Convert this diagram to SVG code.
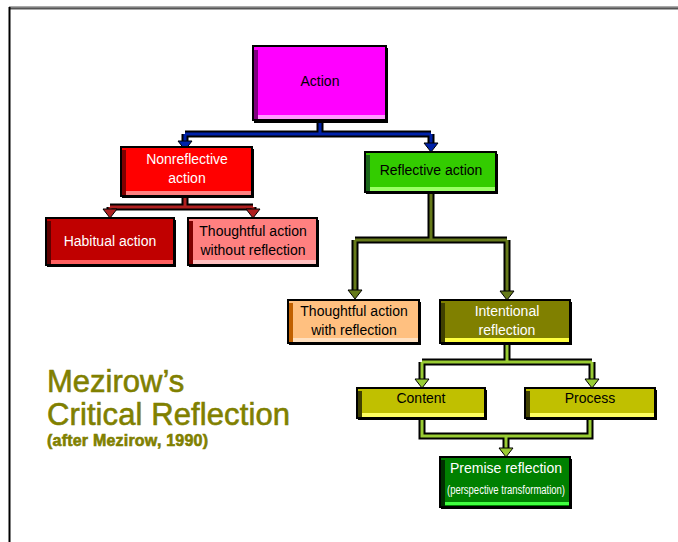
<svg xmlns="http://www.w3.org/2000/svg" width="678" height="542" viewBox="0 0 678 542">
<style>
text{font-family:"Liberation Sans",Arial,sans-serif;font-size:14px;text-anchor:middle}
.w{fill:#ffffff}
.k{fill:#000000}
.box{stroke:#000;stroke-width:2}
.sh{fill:#000}
.ol{fill:none;stroke:#000;stroke-width:7;stroke-linejoin:miter}
.title{fill:#808000;stroke:#808000;stroke-width:0.6;text-anchor:start}
</style>
<defs>
<polygon id="ah" points="-7,-5 7,-5 0,4"/>
</defs>
<rect width="678" height="542" fill="#ffffff"/>
<line x1="9" y1="8" x2="678" y2="8" stroke="#555" stroke-width="3"/>
<line x1="9" y1="7" x2="678" y2="7" stroke="#aaa" stroke-width="1"/>
<line x1="9.5" y1="7" x2="9.5" y2="542" stroke="#000" stroke-width="2"/>

<g id="connectors">
  <path class="ol" d="M320,121 V134 M185,134 H431 M185,134 V146 M431,134 V148"/>
  <path d="M320,121 V134 M185,134 H431 M185,134 V146 M431,134 V148" fill="none" stroke="#0022aa" stroke-width="3"/>
  <use href="#ah" x="185" y="146" fill="#0022aa" stroke="#000" stroke-width="1"/>
  <use href="#ah" x="431" y="148" fill="#0022aa" stroke="#000" stroke-width="1"/>
  <path class="ol" d="M185,196 V207 M110,207 H253 M110,207 V214 M253,207 V214"/>
  <path d="M185,196 V207 M110,207 H253 M110,207 V214 M253,207 V214" fill="none" stroke="#b02020" stroke-width="3"/>
  <use href="#ah" x="110" y="214" fill="#b02020" stroke="#000" stroke-width="1"/>
  <use href="#ah" x="253" y="214" fill="#b02020" stroke="#000" stroke-width="1"/>
  <path class="ol" d="M431,192 V240 M355,240 H507 M355,240 V295 M507,240 V296"/>
  <path d="M431,192 V240 M355,240 H507 M355,240 V295 M507,240 V296" fill="none" stroke="#667a1a" stroke-width="3"/>
  <use href="#ah" x="355" y="295" fill="#667a1a" stroke="#000" stroke-width="1"/>
  <use href="#ah" x="507" y="296" fill="#667a1a" stroke="#000" stroke-width="1"/>
  <path class="ol" d="M507,343 V362 M422,362 H592 M422,362 V384 M592,362 V384"/>
  <path d="M507,343 V362 M422,362 H592 M422,362 V384 M592,362 V384" fill="none" stroke="#99cc33" stroke-width="3"/>
  <use href="#ah" x="422" y="384" fill="#99cc33" stroke="#000" stroke-width="1"/>
  <use href="#ah" x="592" y="384" fill="#99cc33" stroke="#000" stroke-width="1"/>
  <path class="ol" d="M422,418 V436 H590 V418 M506,436 V453"/>
  <path d="M422,418 V436 H590 V418 M506,436 V453" fill="none" stroke="#99cc33" stroke-width="3"/>
  <use href="#ah" x="506" y="453" fill="#99cc33" stroke="#000" stroke-width="1"/>
</g>

<g id="action">
  <rect class="sh" x="254" y="48" width="134" height="75"/>
  <rect class="box" x="253" y="46" width="133" height="74" fill="#ff00ff"/>
  <rect x="254" y="50" width="4" height="69" fill="#800080"/>
  <rect x="258" y="115" width="127" height="4" fill="#ff99ff"/>
  <text class="k" x="320" y="86">Action</text>
</g>

<g id="nonreflective">
  <rect class="sh" x="122" y="149" width="132" height="49"/>
  <rect class="box" x="121" y="147" width="131" height="49" fill="#ff0000"/>
  <rect x="122" y="150" width="4" height="45" fill="#800000"/>
  <rect x="126" y="191" width="125" height="4" fill="#ff8080"/>
  <text class="w" x="187" y="164">Nonreflective</text>
  <text class="w" x="187" y="183">action</text>
</g>

<g id="reflective">
  <rect class="sh" x="366" y="154" width="132" height="40"/>
  <rect class="box" x="365" y="152" width="131" height="40" fill="#33cc00"/>
  <rect x="366" y="155" width="4" height="36" fill="#1a661a"/>
  <rect x="370" y="187" width="125" height="4" fill="#99ff66"/>
  <text class="k" x="431" y="175">Reflective action</text>
</g>

<g id="habitual">
  <rect class="sh" x="47" y="220" width="129" height="47"/>
  <rect class="box" x="46" y="218" width="128" height="47" fill="#c00000"/>
  <rect x="47" y="221" width="4" height="43" fill="#600000"/>
  <rect x="51" y="260" width="122" height="4" fill="#ff6060"/>
  <text class="w" x="110" y="246">Habitual action</text>
</g>

<g id="thoughtful-without">
  <rect class="sh" x="189" y="220" width="130" height="47"/>
  <rect class="box" x="188" y="218" width="129" height="47" fill="#ff8080"/>
  <rect x="189" y="221" width="4" height="43" fill="#800000"/>
  <rect x="193" y="260" width="123" height="4" fill="#ffc0c0"/>
  <text class="k" x="253" y="236">Thoughtful action</text>
  <text class="k" x="253" y="255">without reflection</text>
</g>

<g id="thoughtful-with">
  <rect class="sh" x="289" y="302" width="132" height="43"/>
  <rect class="box" x="288" y="300" width="131" height="43" fill="#ffc080"/>
  <rect x="289" y="303" width="4" height="39" fill="#c06000"/>
  <rect x="293" y="338" width="125" height="4" fill="#ffe0c0"/>
  <text class="k" x="354" y="316">Thoughtful action</text>
  <text class="k" x="354" y="335">with reflection</text>
</g>

<g id="critical">
  <rect class="sh" x="441" y="302" width="131" height="43"/>
  <rect class="box" x="440" y="300" width="130" height="43" fill="#808000"/>
  <rect x="441" y="303" width="4" height="39" fill="#404000"/>
  <rect x="445" y="338" width="124" height="4" fill="#ffff40"/>
  <text class="w" x="507" y="316">Intentional</text>
  <text class="w" x="507" y="335">reflection</text>
</g>

<g id="content">
  <rect class="sh" x="358" y="390" width="129" height="30"/>
  <rect class="box" x="357" y="388" width="128" height="30" fill="#c0c000"/>
  <rect x="358" y="391" width="4" height="26" fill="#404000"/>
  <rect x="362" y="413" width="122" height="4" fill="#ffff60"/>
  <text class="k" x="421" y="403">Content</text>
</g>

<g id="process">
  <rect class="sh" x="526" y="390" width="131" height="30"/>
  <rect class="box" x="525" y="388" width="130" height="30" fill="#c0c000"/>
  <rect x="526" y="391" width="4" height="26" fill="#404000"/>
  <rect x="530" y="413" width="124" height="4" fill="#ffff60"/>
  <text class="k" x="590" y="403">Process</text>
</g>

<g id="premise">
  <rect class="sh" x="441" y="459" width="131" height="50"/>
  <rect class="box" x="440" y="457" width="130" height="50" fill="#008000"/>
  <rect x="441" y="460" width="4" height="46" fill="#003000"/>
  <rect x="445" y="502" width="124" height="3" fill="#40ff40"/>
  <text class="w" x="506" y="473">Premise reflection</text>
  <text class="w" x="506" y="494" style="font-size:12px" textLength="118" lengthAdjust="spacingAndGlyphs">(perspective transformation)</text>
</g>

<g id="title">
  <text class="title" x="47" y="392" style="font-size:31px">Mezirow’s</text>
  <text class="title" x="47" y="425" style="font-size:31px" textLength="243">Critical Reflection</text>
  <text class="title" x="47" y="446" style="font-size:16px;font-weight:bold" textLength="161">(after Mezirow, 1990)</text>
</g>
</svg>
